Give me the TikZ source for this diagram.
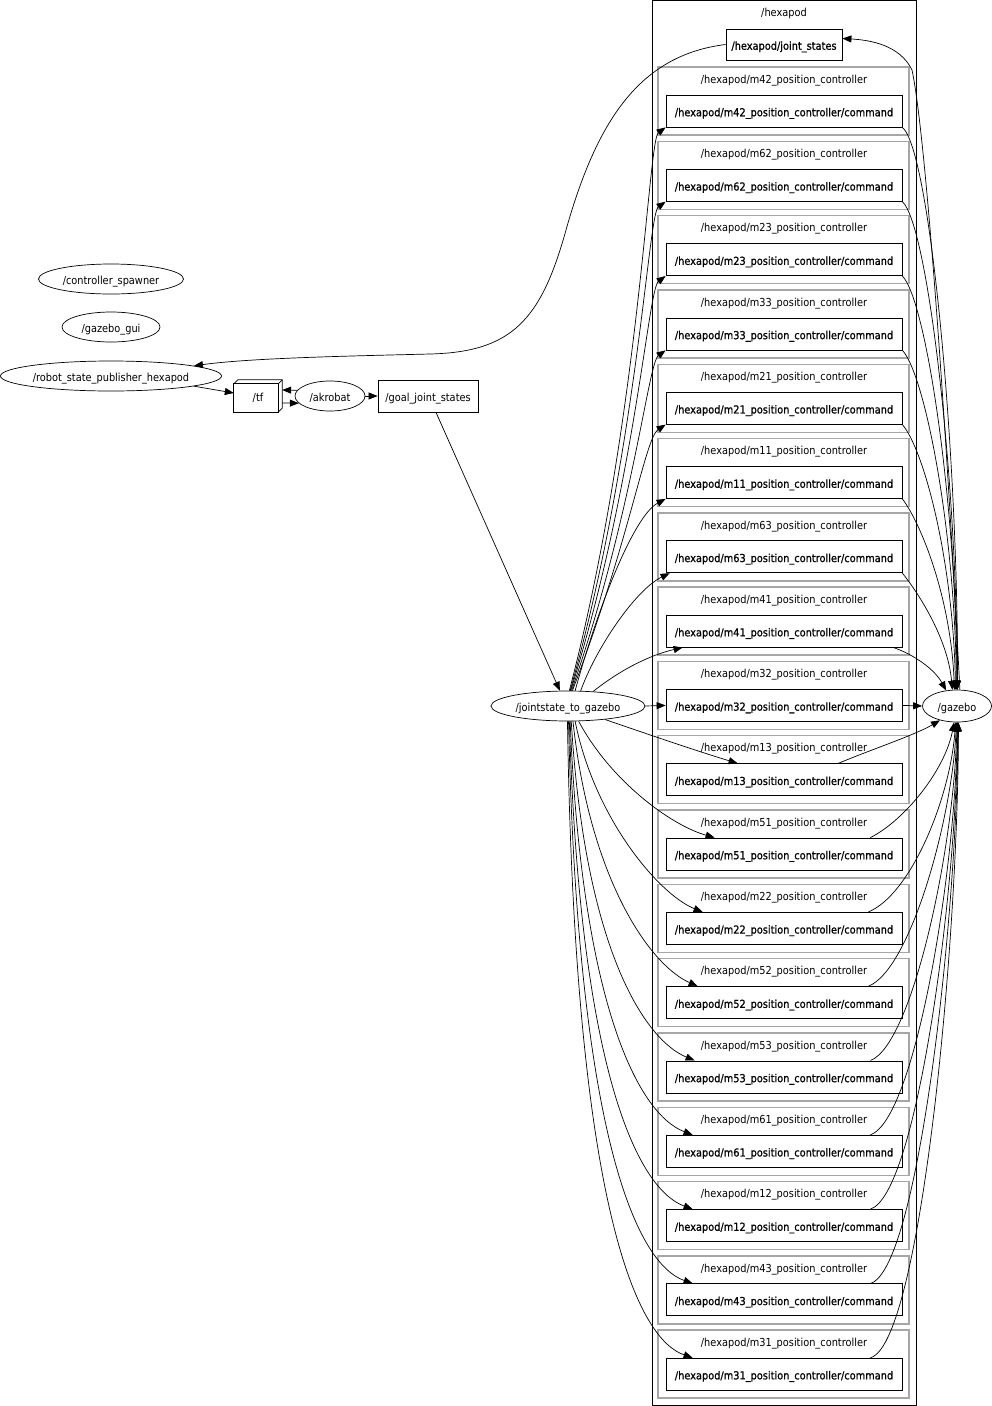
\documentclass[tikz,border=0pt]{standalone}
\usepackage{fontspec}
\setmainfont{DejaVu Sans}[FakeStretch=0.89]
\newfontfamily\topicfont{DejaVu Sans}[FakeStretch=0.89, FakeBold=0.9]
\usetikzlibrary{shapes.geometric,arrows.meta}
\begin{document}
\begin{tikzpicture}[x=1pt,y=-1pt,
  every node/.style={font=\fontsize{11}{13}\selectfont, text height=10.5pt, text depth=0pt},
  ell/.style={draw, ellipse, inner sep=0pt, minimum height=30pt, line width=0.7pt},
  topicbox/.style={draw, rectangle, inner sep=0pt, minimum height=32pt, line width=0.8pt},
  cmdbox/.style={topicbox, minimum width=236pt, font=\topicfont\fontsize{11}{13}\selectfont},
  clusterbox/.style={draw=gray!70, line width=1.4pt},
  conn/.style={-{Triangle[length=9pt,width=7pt]}, line width=0.7pt},
]
\useasboundingbox (0,0) rectangle (992,1406);

% outer cluster
\draw[line width=0.8pt] (652,0.5) rectangle (916,1405);
\node (hexlab) at (784,11) {/hexapod};
\node[topicbox, minimum width=116pt, minimum height=31pt, font=\topicfont\fontsize{11}{13}\selectfont] (jst) at (784,44.5) {/hexapod/joint\_states};

% controller clusters
\foreach \n [count=\i from 0] in {m42,m62,m23,m33,m21,m11,m63,m41,m32,m13,m51,m22,m52,m53,m61,m12,m43,m31} {
  \pgfmathsetmacro\yy{111+74.3*\i}
  \draw[clusterbox] (658,\yy-44) rectangle (909,\yy+24);
  \node (lab\n) at (784,\yy-33) {/hexapod/\n\_position\_controller};
  \node[cmdbox] (cmd\n) at (784,\yy) {/hexapod/\n\_position\_controller/command};
}

% other nodes
\node[ell, minimum width=145pt] (spawner) at (111,279) {/controller\_spawner};
\node[ell, minimum width=98pt] (gui) at (111,327) {/gazebo\_gui};
\node[ell, minimum width=219pt] (rsp) at (111,376) {/robot\_state\_publisher\_hexapod};
\node[inner sep=0pt, minimum width=48pt, minimum height=32pt] (tf) at (258,396) {/tf};
\draw[line width=0.7pt] (tf.south west) rectangle ([xshift=-4,yshift=-4]tf.north east);
\draw[line width=0.7pt] ([yshift=-4]tf.north west) -- ([xshift=4]tf.north west) -- (tf.north east) -- ([yshift=4]tf.south east) -- ([xshift=-4]tf.south east);
\draw[line width=0.7pt] ([xshift=-4,yshift=-4]tf.north east) -- (tf.north east);
\node[ell, minimum width=70pt] (ak) at (330,396) {/akrobat};
\node[topicbox, minimum width=100pt] (goal) at (428,396) {/goal\_joint\_states};
\node[ell, minimum width=154pt] (js) at (568,706) {/jointstate\_to\_gazebo};
\node[ell, minimum width=69pt, minimum height=32pt] (gz) at (957,706) {/gazebo};

% edges left part
\draw[conn] (jst.west) .. controls (640,55) and (597,120) .. (566,230) .. controls (541,320) and (512,352) .. (430,354) .. controls (350,356) and (250,358) .. (rsp.7.5);
\draw[conn] (rsp.-7) -- ([yshift=3]tf.west);
\draw[conn] (ak.170) -- ([yshift=6]tf.east);
\draw[conn] ([yshift=-7]tf.east) -- (ak.-167);
\draw[conn] (ak.east) -- (goal.west);
\draw[conn] ([xshift=8]goal.south) -- (js.118);

% jointstate_to_gazebo -> upper commands
\foreach \n/\sa/\ax/\ay/\bx/\by/\ex in {
  m42/85/640/420/648/140/0,
  m62/82/638/450/648/214/0,
  m23/80/636/480/648/289/0,
  m33/77/634/510/648/363/0,
  m21/74/630/540/645/438/0,
  m11/65/600/600/635/515/0,
  m63/50/595/650/635/590/4,
  m41/30/620/670/650/655/17}
  \draw[conn] (js.\sa) .. controls (\ax,\ay) and (\bx,\by) .. ([xshift=\ex]cmd\n.south west);

% jointstate_to_gazebo -> lower commands
\foreach \n/\sa/\ax/\ay/\bx/\by/\ex in {
  m13/-20/650/735/700/752/72,
  m51/-55/610/780/670/825/49,
  m22/-65/595/820/660/895/37,
  m52/-72/590/880/650/965/32,
  m53/-78/585/950/645/1040/29,
  m61/-82/582/1010/640/1115/27,
  m12/-85/580/1080/640/1190/27,
  m43/-88/578/1150/640/1265/27,
  m31/-92/575/1220/640/1340/27}
  \draw[conn] (js.\sa) .. controls (\ax,\ay) and (\bx,\by) .. ([xshift=\ex]cmd\n.north west);

% upper commands -> gazebo
\foreach \n/\sx/\ax/\ay/\bx/\by/\ea in {
  m42/0/930/150/958/450/88,
  m62/0/928/225/957/480/89,
  m23/0/926/300/956/500/90,
  m33/0/925/375/955/530/92,
  m21/0/924/450/953/560/95,
  m11/0/922/525/951/600/99,
  m63/0/920/595/948/640/106,
  m41/-9/915/655/935/670/125}
  \draw[conn] ([xshift=\sx]cmd\n.south east) .. controls (\ax,\ay) and (\bx,\by) .. (gz.\ea);

% lower commands -> gazebo
\foreach \n/\sx/\ax/\ay/\bx/\by/\ea in {
  m13/-64/870/750/915/735/-140,
  m51/-32/905/820/945/770/-100,
  m22/-34/910/895/950/800/-95,
  m52/-34/910/970/952/820/-92,
  m53/-32/912/1045/954/850/-90,
  m61/-32/914/1120/955/880/-88,
  m12/-32/916/1195/956/900/-87,
  m43/-32/918/1270/957/920/-86,
  m31/-32/920/1345/958/950/-85}
  \draw[conn] ([xshift=\sx]cmd\n.north east) .. controls (\ax,\ay) and (\bx,\by) .. (gz.\ea);

% m32 straight
\draw[conn] (js.east) -- (cmdm32.west);
\draw[conn] (cmdm32.east) -- (gz.west);

% gazebo -> joint_states
\draw[conn] (gz.80) .. controls (945,400) and (925,130) .. (912,70) .. controls (900,45) and (870,40) .. ([yshift=6]jst.east);
\end{tikzpicture}
\end{document}
